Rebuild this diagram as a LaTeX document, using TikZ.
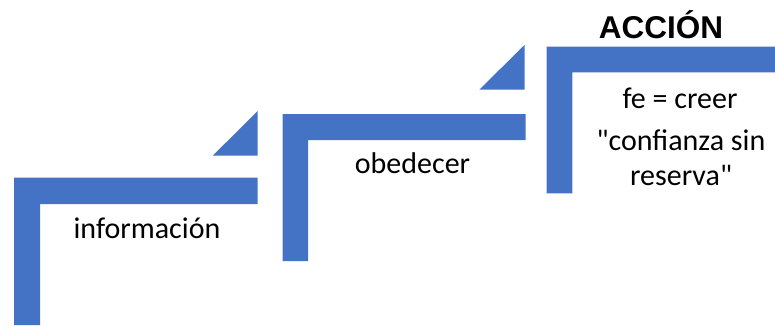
\documentclass[tikz,border=0pt]{standalone}
\usepackage{fontspec}
\setmainfont{Carlito}[Ligatures=TeXOff]
\newfontfamily\arialfont{Liberation Sans}
\definecolor{stepblue}{HTML}{4472C4}
\tikzset{
  stair/.style={fill=stepblue, draw=none},
  lbl/.style={inner sep=0pt, font=\fontsize{30}{36}\selectfont, text=black},
  ttl/.style={inner sep=0pt, font=\arialfont\bfseries\fontsize{31.5}{36}\selectfont, text=black}
}
\begin{document}
\begin{tikzpicture}[x=1pt,y=-1pt]
\useasboundingbox (0,0) rectangle (775,325);
% step 1
\fill[stair] (14,325) -- (14,177.7) -- (257.7,177.7) -- (257.7,204) -- (40,204) -- (40,325) -- cycle;
\fill[stair] (212.7,155.7) -- (257.7,111) -- (257.7,155.7) -- cycle;
% step 2
\fill[stair] (282.5,261) -- (282.5,114) -- (525.7,114) -- (525.7,140) -- (308,140) -- (308,261) -- cycle;
\fill[stair] (479.3,89.7) -- (524.5,45) -- (524.5,89.7) -- cycle;
% step 3
\fill[stair] (546.7,193.3) -- (546.7,46.7) -- (775,46.7) -- (775,72.3) -- (572.3,72.3) -- (572.3,193.3) -- cycle;
% texts
\node[lbl] (info) at (147,228) {información};
\node[lbl] (obed) at (412.5,163) {obedecer};
\node[ttl] (acc) at (661,25) {ACCIÓN};
\node[lbl] (fe) at (680,98) {fe = creer};
\node[lbl] (conf) at (681,140) {"confianza sin};
\node[lbl] (res) at (681,175) {reserva"};
\end{tikzpicture}
\end{document}
